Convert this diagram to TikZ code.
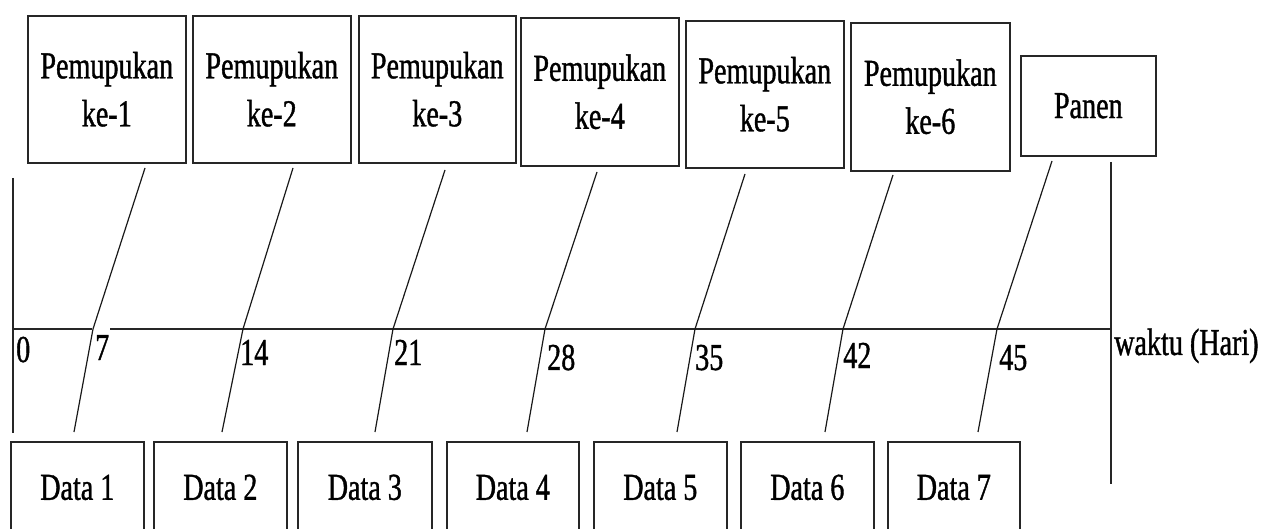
\documentclass[tikz,border=0pt]{standalone}
\usepackage{fontspec}
\newfontfamily\tnr[FakeStretch=0.74,FakeBold=1]{Liberation Serif}
\begin{document}
\begin{tikzpicture}[x=1pt,y=-1pt,
  txt/.style={font=\tnr\fontsize{38}{48}\selectfont},
  topbox/.style={txt,draw=black!85,line width=1.6pt,anchor=north west,align=center,inner sep=0pt},
  databox/.style={txt,draw=black!85,line width=1.6pt,anchor=north west,inner sep=0pt,
    minimum height=110pt,text height=26pt,text depth=20pt},
  tick/.style={txt,anchor=base west,inner sep=0pt},
  conn/.style={line width=1.2pt,black!90},
  axisline/.style={line width=1.6pt,black!85}]
\useasboundingbox (0,0) rectangle (1272,529);
\clip (0,0) rectangle (1272,529);
% top boxes
\node[topbox,minimum width=158pt,minimum height=147pt] (p1) at (27,15) {Pemupukan\\ke-1};
\node[topbox,minimum width=158pt,minimum height=147pt] (p2) at (192,15) {Pemupukan\\ke-2};
\node[topbox,minimum width=157pt,minimum height=147pt] (p3) at (358,15) {Pemupukan\\ke-3};
\node[topbox,minimum width=158pt,minimum height=148pt] (p4) at (520,17) {Pemupukan\\ke-4};
\node[topbox,minimum width=158pt,minimum height=147pt] (p5) at (685,20) {Pemupukan\\ke-5};
\node[topbox,minimum width=159pt,minimum height=148pt] (p6) at (850,22) {Pemupukan\\ke-6};
\node[topbox,minimum width=135pt,minimum height=100pt] (pn) at (1020,55) {Panen};
% data boxes
\node[databox,minimum width=133pt] (d1) at (10,441) {Data 1};
\node[databox,minimum width=133pt] (d2) at (153,441) {Data 2};
\node[databox,minimum width=134pt] (d3) at (297,441) {Data 3};
\node[databox,minimum width=132pt] (d4) at (446,441) {Data 4};
\node[databox,minimum width=133pt] (d5) at (593,441) {Data 5};
\node[databox,minimum width=133pt] (d6) at (740,441) {Data 6};
\node[databox,minimum width=132pt] (d7) at (887,441) {Data 7};
% axis
\coordinate (ax0) at (13,329);
\coordinate (gapL) at (92,329);
\coordinate (gapR) at (110,329);
\coordinate (ax1) at (1111,329);
\coordinate (vl0) at (13,178);
\coordinate (vl1) at (13,433);
\coordinate (vr0) at (1111,162);
\coordinate (vr1) at (1111,484);
\draw[axisline] (ax0) -- (gapL) (gapR) -- (ax1);
\draw[axisline] (vl0) -- (vl1);
\draw[axisline] (vr0) -- (vr1);
% tick labels
\node[tick] (l0) at (16,362) {0};
\node[tick] (l7) at (95,360) {7};
\node[tick] (l14) at (240,365) {14};
\node[tick] (l21) at (394,365) {21};
\node[tick] (l28) at (547,370) {28};
\node[tick] (l35) at (695,370) {35};
\node[tick] (l42) at (843,368) {42};
\node[tick] (l45) at (999,370) {45};
\node[tick] (wk) at (1114,355) {waktu (Hari)};
% slanted connectors
\coordinate (t1) at (145,168); \coordinate (a1) at (93,329);  \coordinate (b1) at (74,432);
\coordinate (t2) at (293,168); \coordinate (a2) at (243,329); \coordinate (b2) at (222,432);
\coordinate (t3) at (445,170); \coordinate (a3) at (393,329); \coordinate (b3) at (375,432);
\coordinate (t4) at (597,172); \coordinate (a4) at (545,329); \coordinate (b4) at (527,432);
\coordinate (t5) at (745,174); \coordinate (a5) at (695,329); \coordinate (b5) at (677,432);
\coordinate (t6) at (893,175); \coordinate (a6) at (843,329); \coordinate (b6) at (825,432);
\coordinate (t7) at (1052,161); \coordinate (a7) at (997,329); \coordinate (b7) at (978,432);
\foreach \i in {1,...,7}{\draw[conn] (t\i) -- (a\i) -- (b\i);}
\end{tikzpicture}
\end{document}
